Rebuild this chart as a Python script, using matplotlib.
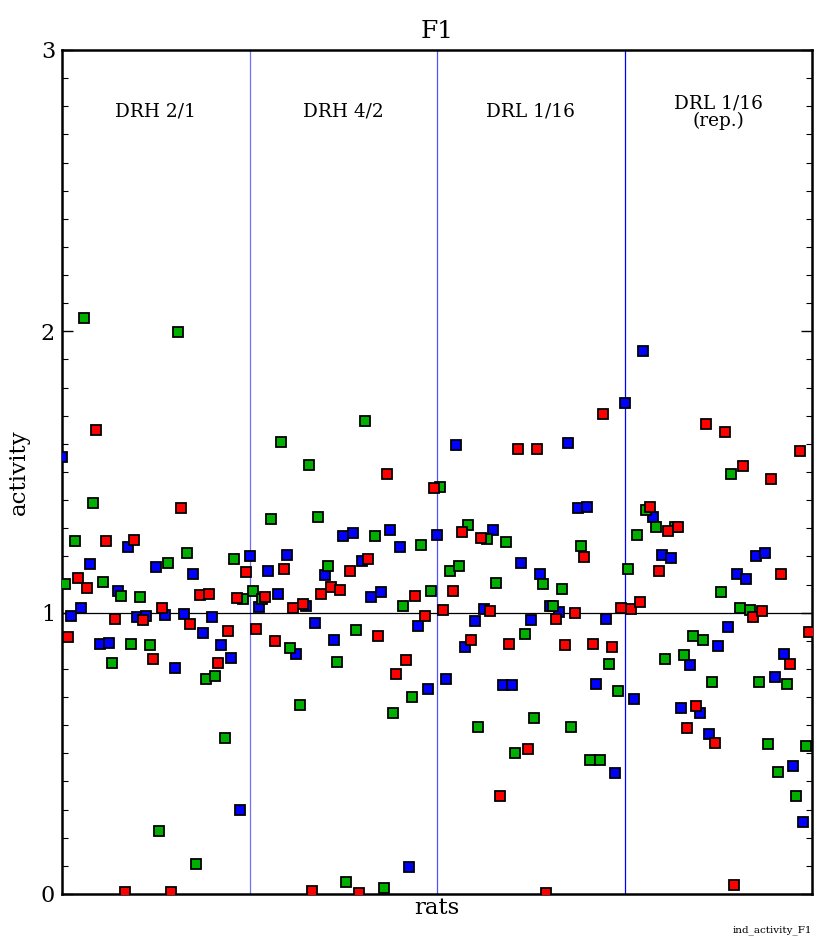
import numpy as np
import matplotlib
matplotlib.use("Agg")
import matplotlib.pyplot as plt

# Experimental conditions, 20 rats each
conditions = ["DRH 2/1", "DRH 4/2", "DRL 1/16", "DRL 1/16\n(rep.)"]
n_rats = 20

# Activity per rat, one list per condition (blue, green and red measures)
blue_activity = [
    [1.554, 0.988, 1.018, 1.174, 0.889, 0.892, 1.078, 1.232, 0.986, 0.988,
     1.163, 0.992, 0.804, 0.994, 1.137, 0.927, 0.986, 0.884, 0.838, 0.299],
    [1.203, 1.021, 1.149, 1.067, 1.206, 0.852, 1.023, 0.964, 1.134, 0.904,
     1.274, 1.283, 1.185, 1.055, 1.075, 1.293, 1.235, 0.095, 0.954, 0.730],
    [1.276, 0.765, 1.595, 0.879, 0.970, 1.012, 1.293, 0.743, 0.743, 1.178,
     0.974, 1.139, 1.025, 1.002, 1.602, 1.371, 1.377, 0.748, 0.979, 0.431],
    [1.746, 0.693, 1.930, 1.341, 1.204, 1.194, 0.661, 0.815, 0.643, 0.568,
     0.883, 0.949, 1.136, 1.119, 1.201, 1.213, 0.772, 0.852, 0.454, 0.255],
]
green_activity = [
    [1.103, 1.254, 2.046, 1.391, 1.110, 0.822, 1.060, 0.890, 1.057, 0.885,
     0.224, 1.177, 1.997, 1.212, 0.106, 0.765, 0.775, 0.553, 1.190, 1.048],
    [1.077, 1.050, 1.334, 1.608, 0.873, 0.672, 1.526, 1.339, 1.166, 0.825,
     0.044, 0.938, 1.680, 1.274, 0.020, 0.643, 1.025, 0.701, 1.239, 1.077],
    [1.446, 1.149, 1.166, 1.312, 0.595, 1.263, 1.107, 1.250, 0.502, 0.924,
     0.626, 1.103, 1.025, 1.085, 0.593, 1.237, 0.477, 0.476, 0.819, 0.722],
    [1.155, 1.275, 1.366, 1.303, 0.836, 1.303, 0.848, 0.916, 0.904, 0.754,
     1.072, 1.492, 1.016, 1.008, 0.754, 0.532, 0.434, 0.745, 0.349, 0.527],
]
red_activity = [
    [0.914, 1.124, 1.088, 1.650, 1.255, 0.978, 0.008, 1.257, 0.973, 0.834,
     1.018, 0.008, 1.371, 0.961, 1.063, 1.067, 0.822, 0.935, 1.053, 1.143],
    [0.941, 1.057, 0.898, 1.154, 1.018, 1.031, 0.011, 1.065, 1.092, 1.082,
     1.148, 0.005, 1.192, 0.916, 1.493, 0.781, 0.831, 1.059, 0.989, 1.442],
    [1.009, 1.077, 1.287, 0.904, 1.266, 1.005, 0.347, 0.889, 1.582, 0.515,
     1.581, 0.005, 0.978, 0.884, 1.000, 1.197, 0.889, 1.706, 0.879, 1.017],
    [1.013, 1.038, 1.376, 1.149, 1.291, 1.306, 0.589, 0.668, 1.670, 0.538,
     1.642, 0.031, 1.521, 0.986, 1.006, 1.476, 1.139, 0.819, 1.575, 0.931],
]

plt.rcParams["font.family"] = ["DejaVu Serif"]

W, H = 830, 942
fig = plt.figure(figsize=(W / 100, H / 100), dpi=100)
ax = fig.add_axes([62 / W, 48 / H, 750 / W, 844 / H])

n_cond = len(conditions)
slots = np.arange(n_cond * n_rats)

series = [
    (blue_activity, 0.0, "#0000ff"),
    (green_activity, 1 / 3, "#00b000"),
    (red_activity, 2 / 3, "#ff0000"),
]
for values, offset, color in series:
    ax.plot(slots + offset, np.concatenate(values), linestyle="none",
            marker="s", markersize=7, markerfacecolor=color,
            markeredgecolor="black", markeredgewidth=1.3, zorder=3)

# condition separators and reference level
sep_colors = ["#7070ff", "#5050ff", "#0000ff"]
for i in range(1, n_cond):
    ax.axvline(i * n_rats, color=sep_colors[i - 1], linewidth=0.9, zorder=1)
ax.axhline(1.0, color="black", linewidth=0.9, zorder=1)

for i, name in enumerate(conditions):
    ax.text(i * n_rats + n_rats / 2, 2.78, name, ha="center", va="center",
            fontsize=13.3, linespacing=0.95)

ax.set_xlim(0, n_cond * n_rats)
ax.set_ylim(0, 3)
ax.set_xticks([])
ax.set_yticks([0, 1, 2, 3])
ax.set_yticks(np.arange(0, 3.01, 0.1), minor=True)
ax.tick_params(axis="y", which="both", direction="in", left=True, right=True,
               labelsize=16, pad=5)
ax.tick_params(axis="y", which="major", length=8, width=1)
ax.tick_params(axis="y", which="minor", length=4, width=0.8)
for sp in ax.spines.values():
    sp.set_linewidth(1.8)

ax.set_xlabel("rats", fontsize=16.5, labelpad=2)
ax.set_ylabel("activity", fontsize=16.5, labelpad=8)
ax.set_title("F1", fontsize=18, pad=9)

fig.text(812 / W, 12 / H, "ind_activity_F1", ha="right", va="center",
         fontsize=7.5)

fig.savefig("out.png", dpi=100)
